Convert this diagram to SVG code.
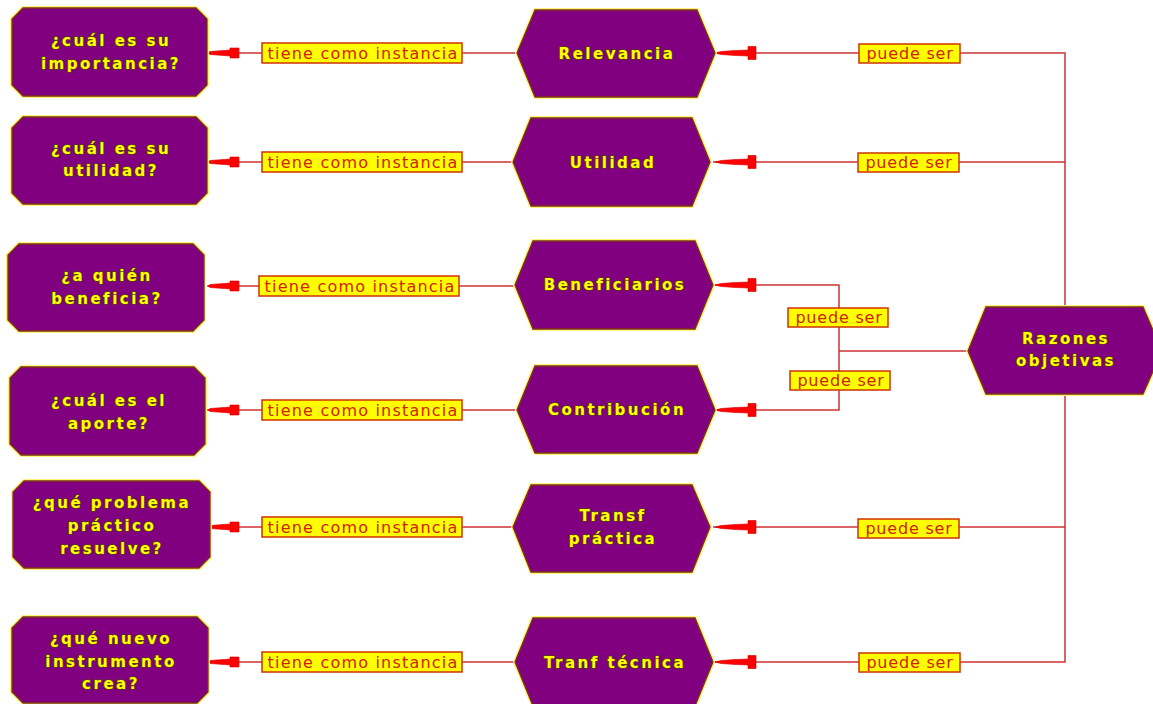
<svg xmlns="http://www.w3.org/2000/svg" xmlns:xlink="http://www.w3.org/1999/xlink" width="1153" height="704" viewBox="0 0 1153 704">
<style>
.bg{fill:#ffffff}
.glow{fill:none;stroke:#fff27a;stroke-width:4;stroke-linejoin:round}
.shape{fill:#800080;stroke:#7a3510;stroke-width:1.3}
.nt{font-family:"DejaVu Sans","Liberation Sans",Arial,sans-serif;font-weight:bold;font-size:15px;letter-spacing:2.5px;fill:#ffff00;stroke:#5a3a10;stroke-width:1.6;paint-order:stroke fill;text-anchor:middle}
.ln{fill:none;stroke:#cc3333;stroke-width:1.5}
.lb{fill:#ffff00;stroke:#cc3300;stroke-width:1.5}
.lt{font-family:"DejaVu Sans","Liberation Sans",Arial,sans-serif;font-size:16px;letter-spacing:1.2px;fill:#d02200;text-anchor:middle}
.lt2{font-family:"DejaVu Sans","Liberation Sans",Arial,sans-serif;font-size:16px;letter-spacing:0.8px;fill:#d02200;text-anchor:middle}
.ar{fill:#ff0000;stroke:#d00000;stroke-width:0.6}
</style>
<defs>
<path id="arL" class="ar" d="M0,0 L2,-1.5 L22,-3 L22,-5 L31,-5 L31,5 L22,5 L22,3 L2,1.5 Z"/>
<path id="arR" class="ar" d="M0,0 L6,-1.5 L20,-2.5 L33,-3 L33,-6.5 L41,-6.5 L41,6.5 L33,6.5 L33,3 L20,2.5 L6,1.5 Z"/>
</defs>
<rect class="bg" x="0" y="0" width="1153" height="704"/>

<g id="connectors">
  <line class="ln" x1="207" y1="53" x2="515" y2="53"/>
  <line class="ln" x1="207" y1="162" x2="515" y2="162"/>
  <line class="ln" x1="207" y1="286" x2="515" y2="286"/>
  <line class="ln" x1="207" y1="410" x2="515" y2="410"/>
  <line class="ln" x1="207" y1="527" x2="515" y2="527"/>
  <line class="ln" x1="207" y1="662" x2="515" y2="662"/>
  <polyline class="ln" points="713,53 1065,53 1065,662 713,662"/>
  <line class="ln" x1="713" y1="162" x2="1065" y2="162"/>
  <line class="ln" x1="713" y1="527" x2="1065" y2="527"/>
  <polyline class="ln" points="713,285 839,285 839,410 713,410"/>
  <line class="ln" x1="839" y1="351" x2="968" y2="351"/>
  <use xlink:href="#arL" href="#arL" transform="translate(208,53)"/>
  <use xlink:href="#arL" href="#arL" transform="translate(208,162)"/>
  <use xlink:href="#arL" href="#arL" transform="translate(208,286)"/>
  <use xlink:href="#arL" href="#arL" transform="translate(208,410)"/>
  <use xlink:href="#arL" href="#arL" transform="translate(208,527)"/>
  <use xlink:href="#arL" href="#arL" transform="translate(208,662)"/>
  <use xlink:href="#arR" href="#arR" transform="translate(715,53)"/>
  <use xlink:href="#arR" href="#arR" transform="translate(715,162)"/>
  <use xlink:href="#arR" href="#arR" transform="translate(715,285)"/>
  <use xlink:href="#arR" href="#arR" transform="translate(715,410)"/>
  <use xlink:href="#arR" href="#arR" transform="translate(715,527)"/>
  <use xlink:href="#arR" href="#arR" transform="translate(715,662)"/>
  <g id="lbl-tiene">
    <rect class="lb" x="262" y="43" width="200" height="20"/><text class="lt" x="363" y="58.5">tiene como instancia</text>
    <rect class="lb" x="262" y="152" width="200" height="20"/><text class="lt" x="363" y="167.5">tiene como instancia</text>
    <rect class="lb" x="259" y="276" width="200" height="20"/><text class="lt" x="360" y="291.5">tiene como instancia</text>
    <rect class="lb" x="262" y="400" width="200" height="20"/><text class="lt" x="363" y="415.5">tiene como instancia</text>
    <rect class="lb" x="262" y="517" width="200" height="20"/><text class="lt" x="363" y="532.5">tiene como instancia</text>
    <rect class="lb" x="262" y="652" width="200" height="20"/><text class="lt" x="363" y="667.5">tiene como instancia</text>
  </g>
  <g id="lbl-puede">
    <rect class="lb" x="859" y="44" width="101" height="19"/><text class="lt2" x="910" y="59">puede ser</text>
    <rect class="lb" x="858" y="153" width="101" height="19"/><text class="lt2" x="909" y="168">puede ser</text>
    <rect class="lb" x="788" y="308" width="100" height="19"/><text class="lt2" x="839" y="323">puede ser</text>
    <rect class="lb" x="790" y="371" width="100" height="19"/><text class="lt2" x="841" y="386">puede ser</text>
    <rect class="lb" x="858" y="519" width="101" height="19"/><text class="lt2" x="909" y="534">puede ser</text>
    <rect class="lb" x="859" y="653" width="101" height="19"/><text class="lt2" x="910" y="668">puede ser</text>
  </g>
</g>

<g id="q-importancia">
  <path class="glow" d="M23,8 H196 L207,19 V85 L196,96 H23 L12,85 V19 Z"/>
  <path class="shape" d="M23,8 H196 L207,19 V85 L196,96 H23 L12,85 V19 Z"/>
  <text class="nt" x="111" y="46">¿cuál es su</text>
  <text class="nt" x="111" y="69">importancia?</text>
</g>
<g id="q-utilidad">
  <path class="glow" d="M23,117 H196 L207,128 V193 L196,204 H23 L12,193 V128 Z"/>
  <path class="shape" d="M23,117 H196 L207,128 V193 L196,204 H23 L12,193 V128 Z"/>
  <text class="nt" x="111" y="154">¿cuál es su</text>
  <text class="nt" x="111" y="176">utilidad?</text>
</g>
<g id="q-beneficia">
  <path class="glow" d="M19,244 H193 L204,255 V320 L193,331 H19 L8,320 V255 Z"/>
  <path class="shape" d="M19,244 H193 L204,255 V320 L193,331 H19 L8,320 V255 Z"/>
  <text class="nt" x="107" y="281">¿a quién</text>
  <text class="nt" x="107" y="304">beneficia?</text>
</g>
<g id="q-aporte">
  <path class="glow" d="M21,367 H194 L205,378 V444 L194,455 H21 L10,444 V378 Z"/>
  <path class="shape" d="M21,367 H194 L205,378 V444 L194,455 H21 L10,444 V378 Z"/>
  <text class="nt" x="109" y="406">¿cuál es el</text>
  <text class="nt" x="109" y="429">aporte?</text>
</g>
<g id="q-problema">
  <path class="glow" d="M24,481 H199 L210,492 V557 L199,568 H24 L13,557 V492 Z"/>
  <path class="shape" d="M24,481 H199 L210,492 V557 L199,568 H24 L13,557 V492 Z"/>
  <text class="nt" x="112" y="508">¿qué problema</text>
  <text class="nt" x="112" y="531">práctico</text>
  <text class="nt" x="112" y="554">resuelve?</text>
</g>
<g id="q-instrumento">
  <path class="glow" d="M23,617 H197 L208,628 V692 L197,703 H23 L12,692 V628 Z"/>
  <path class="shape" d="M23,617 H197 L208,628 V692 L197,703 H23 L12,692 V628 Z"/>
  <text class="nt" x="111" y="644">¿qué nuevo</text>
  <text class="nt" x="111" y="667">instrumento</text>
  <text class="nt" x="111" y="689">crea?</text>
</g>

<g id="n-relevancia">
  <path class="glow" d="M535,10 H697 L715,53 L697,97 H535 L517,53 Z"/>
  <path class="shape" d="M535,10 H697 L715,53 L697,97 H535 L517,53 Z"/>
  <text class="nt" x="617" y="59">Relevancia</text>
</g>
<g id="n-utilidad">
  <path class="glow" d="M531,118 H692 L710,162 L692,206 H531 L513,162 Z"/>
  <path class="shape" d="M531,118 H692 L710,162 L692,206 H531 L513,162 Z"/>
  <text class="nt" x="613" y="168">Utilidad</text>
</g>
<g id="n-beneficiarios">
  <path class="glow" d="M533,241 H695 L713,285 L695,329 H533 L515,285 Z"/>
  <path class="shape" d="M533,241 H695 L713,285 L695,329 H533 L515,285 Z"/>
  <text class="nt" x="615" y="290">Beneficiarios</text>
</g>
<g id="n-contribucion">
  <path class="glow" d="M535,366 H697 L715,410 L697,453 H535 L517,410 Z"/>
  <path class="shape" d="M535,366 H697 L715,410 L697,453 H535 L517,410 Z"/>
  <text class="nt" x="617" y="415">Contribución</text>
</g>
<g id="n-transf-practica">
  <path class="glow" d="M531,485 H692 L710,527 L692,572 H531 L513,527 Z"/>
  <path class="shape" d="M531,485 H692 L710,527 L692,572 H531 L513,527 Z"/>
  <text class="nt" x="613" y="521">Transf</text>
  <text class="nt" x="613" y="544">práctica</text>
</g>
<g id="n-tranf-tecnica">
  <path class="glow" d="M533,618 H695 L713,662 L695,706 H533 L515,662 Z"/>
  <path class="shape" d="M533,618 H695 L713,662 L695,706 H533 L515,662 Z"/>
  <text class="nt" x="615" y="668">Tranf técnica</text>
</g>

<g id="n-razones">
  <path class="glow" d="M986,307 H1143 L1162,351 L1143,394 H986 L968,351 Z"/>
  <path class="shape" d="M986,307 H1143 L1162,351 L1143,394 H986 L968,351 Z"/>
  <text class="nt" x="1066" y="344">Razones</text>
  <text class="nt" x="1066" y="366">objetivas</text>
</g>
</svg>
